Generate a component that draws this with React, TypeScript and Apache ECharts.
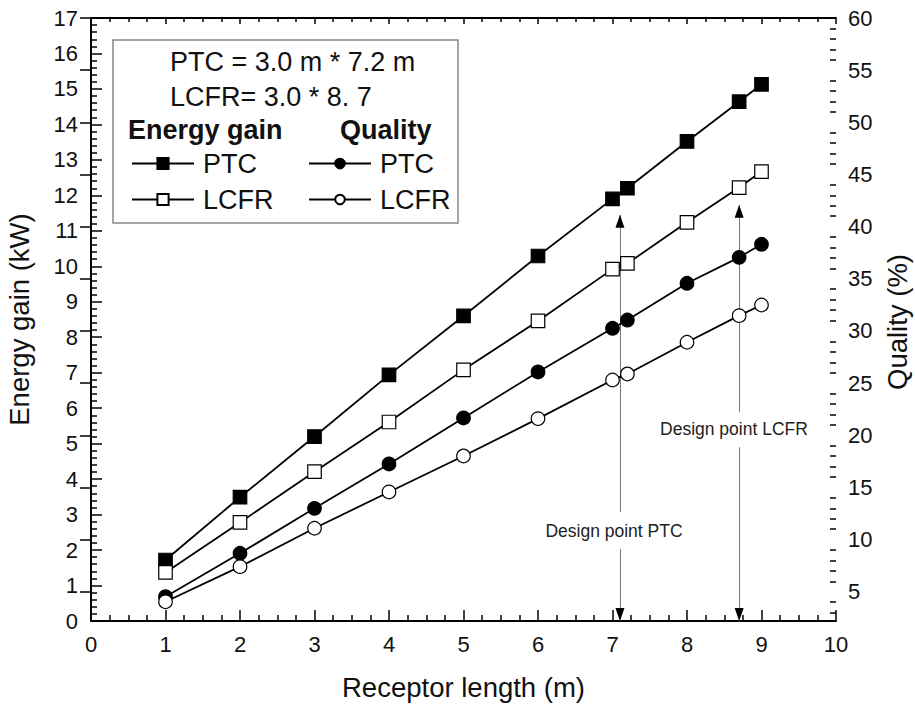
import React, { useEffect, useRef } from "react";
import * as echarts from "echarts";

const receptorLength = [1, 2, 3, 4, 5, 6, 7, 7.2, 8, 8.7, 9];
const energyPTC = [1.72, 3.49, 5.2, 6.94, 8.6, 10.29, 11.9, 12.2, 13.52, 14.64, 15.13];
const energyLCFR = [1.37, 2.78, 4.21, 5.61, 7.08, 8.46, 9.92, 10.08, 11.24, 12.22, 12.67];
const qualityPTC = [4.53, 8.69, 13.0, 17.25, 21.66, 26.07, 30.26, 31.05, 34.57, 37.06, 38.31];
const qualityLCFR = [4.05, 7.41, 11.09, 14.57, 18.02, 21.6, 25.3, 25.88, 28.92, 31.47, 32.49];

const qualityMajorTicks = [5, 10, 15, 20, 25, 30, 35, 40, 45, 50, 55, 60];
const qualityMinorTicks = [3, 4, 6, 7, 8, 9, 11, 12, 13, 14, 16, 17, 18, 19, 21, 22, 23, 24, 26, 27, 28, 29, 31, 32, 33, 34, 36, 37, 38, 39, 41, 42, 43, 44, 46, 47, 48, 49, 51, 52, 53, 54, 56, 57, 58, 59];

const designPTC = { x: 7.1, top: 11.45, gapTop: 3.07, gapBottom: 2.03, labelX: 7.02, labelY: 2.54, text: "Design point PTC" };
const designLCFR = { x: 8.7, top: 11.73, gapTop: 5.89, gapBottom: 4.9, labelX: 8.63, labelY: 5.41, text: "Design point LCFR" };

const FONT = "'Liberation Sans', Arial, sans-serif";

export default function App() {
  const ref = useRef<HTMLDivElement>(null);

  useEffect(() => {
    document.body.style.margin = "0";
    const chart = echarts.init(ref.current!, undefined, { renderer: "svg" });

    const pairs = (ys: number[]) => receptorLength.map((x, i) => [x, ys[i]]);

    const axisLineStyle = { lineStyle: { color: "#000", width: 2 } };
    const tickStyle = { lineStyle: { color: "#000", width: 1.5 } };

    const designMarks = (d: typeof designPTC) => [
      [{ coord: [d.x, d.top] }, { coord: [d.x, d.gapTop] }],
      [{ coord: [d.x, d.gapBottom] }, { coord: [d.x, 0] }],
    ];
    const arrowHeads = (d: typeof designPTC) => [
      { coord: [d.x, d.top - 0.18], symbol: "triangle", symbolSize: [9, 13], symbolRotate: 0, itemStyle: { color: "#000" }, label: { show: false } },
      { coord: [d.x, 0.18], symbol: "triangle", symbolSize: [9, 13], symbolRotate: 180, itemStyle: { color: "#000" }, label: { show: false } },
      {
        coord: [d.labelX, d.labelY],
        symbol: "circle",
        symbolSize: 1,
        itemStyle: { color: "rgba(0,0,0,0)" },
        label: { show: true, position: "inside", formatter: d.text, color: "#222", fontSize: 17.5, fontFamily: FONT },
      },
    ];

    const lineSeries = (name: string, data: number[], yAxisIndex: number, symbol: string, filled: boolean) => ({
      name,
      type: "line",
      xAxisIndex: 0,
      yAxisIndex,
      data: pairs(data),
      symbol,
      symbolSize: 13.5,
      showAllSymbol: true,
      lineStyle: { color: "#000", width: 1.8 },
      itemStyle: { color: filled ? "#000" : "#fff", borderColor: "#000", borderWidth: 1.2 },
      z: 3,
    });

    const s0: any = lineSeries("Energy gain PTC", energyPTC, 0, "rect", true);
    s0.markLine = {
      silent: true,
      symbol: ["none", "none"],
      label: { show: false },
      lineStyle: { color: "#777", width: 1, type: "solid" },
      data: [...designMarks(designPTC), ...designMarks(designLCFR)],
      z: 1,
    };
    s0.markPoint = {
      silent: true,
      data: [...arrowHeads(designPTC), ...arrowHeads(designLCFR)],
    };

    const legendText = { fontSize: 27, fontFamily: FONT, color: "#111", lineHeight: 27, padding: [0, 0, 0, 4] };
    const titleStyle = { fontSize: 27.5, color: "#111", fontFamily: FONT };

    chart.setOption({
      animation: false,
      backgroundColor: "#fff",
      textStyle: { fontFamily: FONT },
      grid: { left: 91, right: 79, top: 18, bottom: 85, outerBoundsMode: "none", containLabel: false },
      legend: [
        {
          data: ["Energy gain PTC", "Energy gain LCFR"],
          orient: "vertical",
          left: 126,
          top: 145,
          itemWidth: 62,
          itemHeight: 14,
          itemGap: 9,
          selectedMode: false,
          textStyle: legendText,
          formatter: (n: string) => n.replace("Energy gain ", ""),
        },
        {
          data: ["Quality PTC", "Quality LCFR"],
          orient: "vertical",
          left: 303,
          top: 145,
          itemWidth: 62,
          itemHeight: 12,
          itemGap: 9,
          selectedMode: false,
          textStyle: legendText,
          formatter: (n: string) => n.replace("Quality ", ""),
        },
      ],
      xAxis: [
        {
          type: "value",
          position: "bottom",
          min: 0,
          max: 10,
          interval: 1,
          name: "Receptor length (m)",
          nameLocation: "middle",
          nameGap: 52,
          nameTextStyle: titleStyle,
          axisLine: axisLineStyle,
          axisTick: { inside: true, length: 11, ...tickStyle },
          minorTick: { show: true, splitNumber: 4, length: 6, lineStyle: { color: "#000", width: 1.5 } },
          axisLabel: { fontSize: 22, color: "#111", margin: 12, fontFamily: FONT },
          splitLine: { show: false },
        },
        {
          type: "value",
          position: "top",
          min: 0,
          max: 10,
          interval: 1,
          axisLine: axisLineStyle,
          axisTick: { inside: true, length: 6, ...tickStyle },
          minorTick: { show: true, splitNumber: 4, length: 4, lineStyle: { color: "#000", width: 1.5 } },
          axisLabel: { show: false },
          splitLine: { show: false },
        },
      ],
      yAxis: [
        {
          type: "value",
          position: "left",
          min: 0,
          max: 17,
          interval: 1,
          name: "Energy gain (kW)",
          nameLocation: "middle",
          nameGap: 58,
          nameTextStyle: titleStyle,
          axisLine: { show: true, ...axisLineStyle },
          axisTick: { inside: true, length: 11, ...tickStyle },
          minorTick: { show: true, splitNumber: 5, length: 6, lineStyle: { color: "#000", width: 1.5 } },
          axisLabel: { fontSize: 22, color: "#111", margin: 13, fontFamily: FONT },
          splitLine: { show: false },
        },
        {
          type: "value",
          position: "right",
          min: 2.2,
          max: 60,
          axisLine: { show: true, ...axisLineStyle },
          axisTick: { inside: true, length: 11, customValues: qualityMajorTicks, ...tickStyle },
          axisLabel: { fontSize: 22, color: "#111", margin: 12, fontFamily: FONT, customValues: qualityMajorTicks },
          splitLine: { show: false },
        },
        {
          type: "value",
          position: "right",
          min: 2.2,
          max: 60,
          axisLine: { show: false },
          axisTick: { show: true, inside: true, length: 6, customValues: qualityMinorTicks, ...tickStyle },
          axisLabel: { show: false },
          splitLine: { show: false },
        },
      ],
      graphic: [
        {
          type: "rect",
          shape: { x: 113, y: 40, width: 345, height: 183 },
          style: { fill: "none", stroke: "#888", lineWidth: 1.5 },
          z: 10,
        },
        {
          type: "text",
          x: 170,
          y: 62,
          style: { text: "PTC = 3.0 m * 7.2 m", font: `27px ${FONT}`, fill: "#111", textVerticalAlign: "middle" },
          z: 10,
        },
        {
          type: "text",
          x: 170,
          y: 97,
          style: { text: "LCFR= 3.0 * 8. 7", font: `27px ${FONT}`, fill: "#111", textVerticalAlign: "middle" },
          z: 10,
        },
        {
          type: "text",
          x: 128,
          y: 130,
          style: { text: "Energy gain", font: `bold 27px ${FONT}`, fill: "#111", textVerticalAlign: "middle" },
          z: 10,
        },
        {
          type: "text",
          x: 340,
          y: 130,
          style: { text: "Quality", font: `bold 27px ${FONT}`, fill: "#111", textVerticalAlign: "middle" },
          z: 10,
        },
        {
          type: "text",
          x: 897,
          y: 322,
          rotation: Math.PI / 2,
          style: { text: "Quality (%)", font: `27.5px ${FONT}`, fill: "#111", textAlign: "center", textVerticalAlign: "middle" },
          z: 10,
        },
      ],
      series: [
        s0,
        lineSeries("Energy gain LCFR", energyLCFR, 0, "rect", false),
        lineSeries("Quality PTC", qualityPTC, 1, "circle", true),
        lineSeries("Quality LCFR", qualityLCFR, 1, "circle", false),
      ],
    });

    return () => chart.dispose();
  }, []);

  return <div ref={ref} style={{ width: 915, height: 706 }} />;
}
